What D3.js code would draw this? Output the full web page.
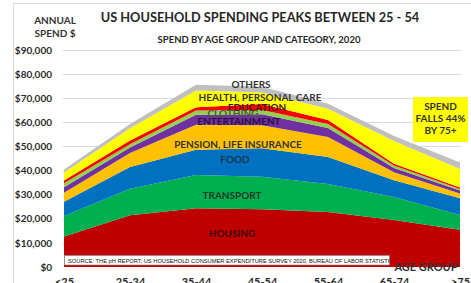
<!DOCTYPE html>
<html><head><meta charset="utf-8">
<script src="https://cdn.jsdelivr.net/npm/d3@7"></script>
<style>
html,body{margin:0;padding:0;background:#fff;}
svg{display:block;font-family:Lato,"Open Sans",sans-serif;font-weight:bold;}
</style></head>
<body><svg id="c" width="471" height="283"></svg>
<script>
// ---- data (US$ thousands, 2020) ----
const ageGroups = ["<25","25-34","35-44","45-54","55-64","65-74",">75"];
const housing       = [12.6, 21.5, 24.4, 23.9, 22.8, 19.5, 15.4];
const transport     = [ 8.6, 11.0, 13.8, 13.5, 11.6,  9.5,  6.2];
const food          = [ 5.9,  9.0, 10.4, 11.8, 11.2,  7.0,  6.9];
const pension       = [ 3.7,  5.8, 10.4,  9.6,  8.3,  3.3,  2.0];
const entertainment = [ 2.3,  2.3,  4.1,  4.6,  3.7,  1.8,  1.2];
const clothing      = [ 1.6,  1.3,  1.8,  1.7,  1.7,  1.0,  0.7];
const education     = [ 1.2,  1.6,  1.4,  2.5,  1.7,  0.7,  0.6];
const health        = [ 3.3,  5.0,  6.9,  4.8,  4.6,  9.5,  7.6];
const others        = [ 1.2,  1.8,  2.4,  2.4,  2.1,  2.0,  2.7];
const seriesNames = ["HOUSING","TRANSPORT","FOOD","PENSION, LIFE INSURANCE","ENTERTAINMENT","CLOTHING","EDUCATION","HEALTH, PERSONAL CARE","OTHERS"];
const seriesValues = [housing,transport,food,pension,entertainment,clothing,education,health,others];
const seriesColors = ["#c00000","#00b050","#0070c0","#ffc000","#7030a0","#92d050","#ff0000","#ffff00","#bfbfbf"];
const yTicks = [0,10,20,30,40,50,60,70,80,90];

const svg = d3.select("#c");
const x = d3.scalePoint().domain(ageGroups).range([64,460]);
const y = d3.scaleLinear().domain([0,90]).range([267,50]);

// frame
svg.append("line").attr("x1",13.5).attr("x2",13.5).attr("y1",3).attr("y2",283).attr("stroke","#d9d9d9");
svg.append("line").attr("x1",13.5).attr("x2",471).attr("y1",3.5).attr("y2",3.5).attr("stroke","#d9d9d9");

// gridlines
svg.append("g").selectAll("line").data(yTicks.slice(1)).join("line")
  .attr("x1",63).attr("x2",461).attr("y1",d=>Math.round(y(d))+0.5).attr("y2",d=>Math.round(y(d))+0.5)
  .attr("stroke","#d9d9d9").attr("stroke-width",1);

// y axis labels
const yAxis = d3.axisLeft(y).tickValues(yTicks).tickSize(0).tickPadding(0)
  .tickFormat(d=>"$"+d3.format(",")(d*1000));
const ga = svg.append("g").attr("transform","translate(52,0)").call(yAxis);
ga.select(".domain").remove();
ga.selectAll("text").attr("font-family","Lato").attr("font-weight","bold").attr("font-size",10).attr("fill","#2b2b2b");

// stacked areas
const table = ageGroups.map((g,i)=>{const o={g}; seriesNames.forEach((n,k)=>o[n]=seriesValues[k][i]); return o;});
const stack = d3.stack().keys(seriesNames)(table);
const area = d3.area().x(d=>x(d.data.g)).y0(d=>y(d[0])).y1(d=>y(d[1]));
svg.append("g").selectAll("path").data(stack).join("path")
  .attr("d",area).attr("fill",(d,i)=>seriesColors[i]);

// series labels
const labels = [
  {t:"OTHERS",x:251,y:84,c:"#333"},
  {t:"HEALTH, PERSONAL CARE",x:260,y:97,c:"#333"},
  {t:"EDUCATION",x:257,y:107,c:"#4a1010"},
  {t:"CLOTHING",x:233,y:113,c:"#4d5a40"},
  {t:"ENTERTAINMENT",x:239,y:121,c:"#2a1040"},
  {t:"PENSION, LIFE INSURANCE",x:238,y:144,c:"#333"},
  {t:"FOOD",x:235,y:159,c:"#1f3550"},
  {t:"TRANSPORT",x:232,y:195,c:"#1f3a25"},
  {t:"HOUSING",x:232,y:233,c:"#3a0a0a"}
];
svg.append("g").selectAll("text").data(labels).join("text")
  .attr("x",d=>d.x).attr("y",d=>d.y).attr("dy","0.35em").attr("text-anchor","middle")
  .attr("font-size",10).attr("fill",d=>d.c).text(d=>d.t);

// source box
const clip = svg.append("clipPath").attr("id","srcclip");
clip.append("rect").attr("x",64).attr("y",255).attr("width",326).attr("height",11);
svg.append("rect").attr("x",64.5).attr("y",255.5).attr("width",325).attr("height",9.5).attr("fill","#fff").attr("stroke","#888").attr("stroke-width",0.6);
const src = svg.append("text").attr("clip-path","url(#srcclip)").attr("x",68).attr("y",263)
  .attr("font-size",5.8).attr("font-weight","normal").attr("fill","#111").attr("font-family","Liberation Sans Narrow, Arial Narrow, sans-serif")
  .text("SOURCE: THE pH REPORT, US HOUSEHOLD CONSUMER EXPENDITURE SURVEY 2020, BUREAU OF LABOR STATISTICS");

// x labels
const xAxis = d3.axisBottom(x).tickSize(0).tickPadding(0);
const gx = svg.append("g").attr("transform","translate(0,278)").call(xAxis);
gx.select(".domain").remove();
gx.selectAll("text").attr("font-family","Lato").attr("font-weight","bold").attr("font-size",11).attr("fill","#2b2b2b").attr("dy","0.71em");

svg.append("text").attr("x",426).attr("y",271).attr("text-anchor","middle").attr("font-size",11).attr("fill","#333").text("AGE GROUP");

// titles
function fit(sel,w){const l=sel.node().getComputedTextLength(); const fs=+sel.attr("font-size"); sel.attr("font-size",fs*w/l);}
fit(src,330);
const title = svg.append("text").attr("x",260).attr("y",22).attr("text-anchor","middle").attr("font-size",13).attr("fill","#262626")
  .text("US HOUSEHOLD SPENDING PEAKS BETWEEN 25 - 54");
fit(title,319);
const sub = svg.append("text").attr("x",259).attr("y",43).attr("text-anchor","middle").attr("font-size",9).attr("fill","#262626")
  .text("SPEND BY AGE GROUP AND CATEGORY, 2020");
fit(sub,203);
svg.append("text").attr("x",55).attr("y",24).attr("text-anchor","middle").attr("font-size",10).attr("fill","#333").text("ANNUAL");
svg.append("text").attr("x",55).attr("y",37).attr("text-anchor","middle").attr("font-size",10).attr("fill","#333").text("SPEND $");

// callout
svg.append("rect").attr("x",413).attr("y",97).attr("width",55).attr("height",45).attr("fill","#ffff00");
svg.append("g").selectAll("text").data(["SPEND","FALLS 44%","BY 75+"]).join("text")
  .attr("x",440.5).attr("y",(d,i)=>106+i*12).attr("dy","0.35em").attr("text-anchor","middle")
  .attr("font-size",10).attr("fill","#333").text(d=>d);
</script></body></html>
